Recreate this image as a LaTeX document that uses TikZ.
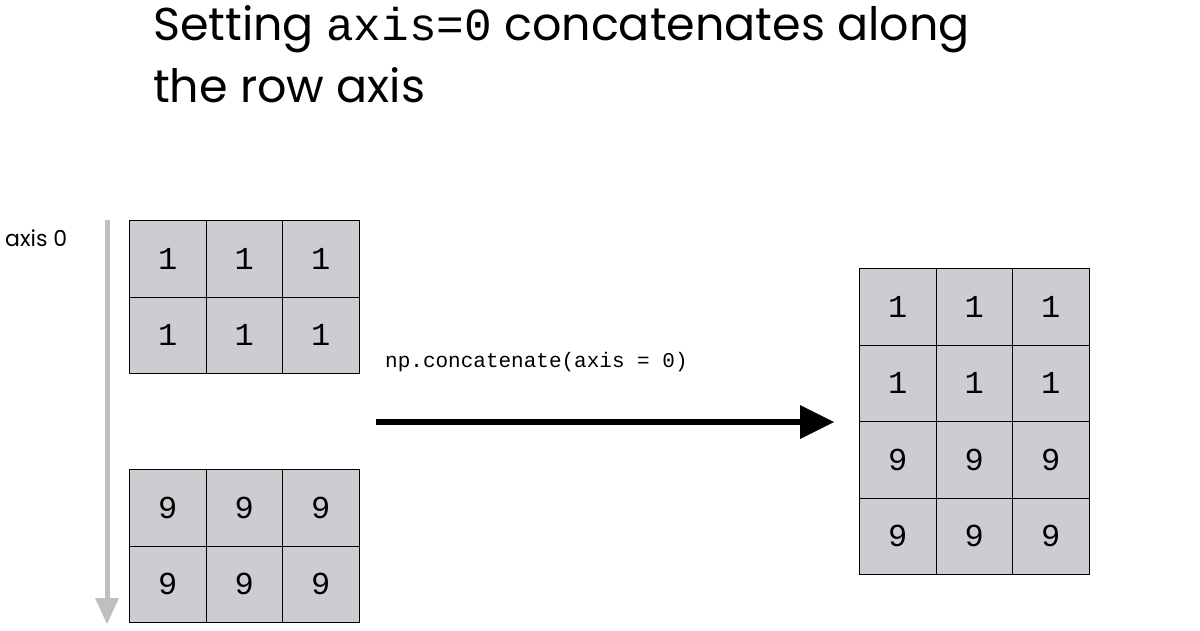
\documentclass[tikz,border=0pt]{standalone}
\usepackage{fontspec}
\setmainfont{Poppins}
\setmonofont{Liberation Mono}
\begin{document}
\begin{tikzpicture}[x=1pt,y=-1pt,
  cell/.style={draw=black,line width=1pt,fill=cellgray,minimum width=76.5pt,minimum height=76.5pt,inner sep=0pt,font=\fontsize{32}{32}\ttfamily},
]
\definecolor{cellgray}{HTML}{CBCDD1}
\useasboundingbox (0,0) rectangle (1200,630);
\node[anchor=base west,font=\fontsize{46}{46}\selectfont,inner sep=0pt] (t1) at (153,40) {Setting {\ttfamily axis=0} concatenates along};
\node[anchor=base west,font=\fontsize{46}{46}\selectfont,inner sep=0pt] (t2) at (153,102) {the row axis};
\foreach \r/\y/\v in {0/220/1,1/296.5/1,2/469/9,3/545.5/9}{
  \foreach \c in {0,1,2}{
    \node[cell,anchor=north west] (L\r\c) at (129+76.5*\c,\y) {\v};
  }
}
\foreach \r/\v in {0/1,1/1,2/9,3/9}{
  \foreach \c in {0,1,2}{
    \node[cell,anchor=north west] (R\r\c) at (859+76.5*\c,268+76.5*\r) {\v};
  }
}
\node[anchor=base west,font=\fontsize{22}{22}\selectfont,inner sep=0pt] (ax) at (5,246) {axis 0};
\fill[gray!50] (104.5,220) rectangle (109.5,598);
\fill[gray!50] (95,598) -- (119,598) -- (107,624) -- cycle;
\node[anchor=base west,font=\fontsize{21}{21}\ttfamily,inner sep=0pt] (lab) at (385,367) {np.concatenate(axis = 0)};
\draw[line width=6pt] (376,422) -- (800,422);
\fill (800,405) -- (834,422) -- (800,439) -- cycle;
\end{tikzpicture}
\end{document}
